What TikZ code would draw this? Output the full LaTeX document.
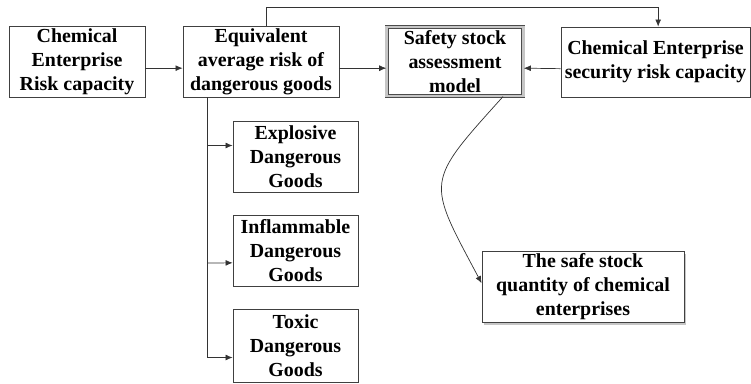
\documentclass[tikz,border=0pt]{standalone}
\usepackage{fontspec}
\setmainfont{Liberation Serif}
\usetikzlibrary{arrows.meta,shadows}

\begin{document}
\begin{tikzpicture}[x=0.03cm,y=-0.03cm,
    >={Latex[length=6pt,width=5pt]},
    line/.style={line width=0.6pt,draw=black!80},
    box/.style={draw=black!75,line width=0.7pt,fill=white,align=center,inner sep=0pt,
      font=\fontsize{17}{20.4}\selectfont\bfseries},
    bevel/.style={box,draw=black!70,double=gray!45,double distance=2.2pt},
    shadowbox/.style={box,drop shadow={shadow xshift=2pt,shadow yshift=-2.5pt,opacity=0.45}}]
  \useasboundingbox (0,0) rectangle (751,383);

  % top row
  \node[box,minimum width=4.08cm,minimum height=2.13cm] (risk) at (77,61.5)
    {Chemical\\Enterprise\\Risk capacity};
  \node[box,minimum width=4.68cm,minimum height=2.13cm] (equiv) at (261,61.5)
    {Equivalent\\average risk of\\dangerous goods};
  \node[bevel,minimum width=4.1cm,minimum height=2.08cm] (model) at (455,61.5)
    {Safety stock\\assessment\\model};
  \node[box,minimum width=5.67cm,minimum height=2.1cm] (cap) at (655.5,62)
    {Chemical Enterprise\\security risk capacity};

  % kinds of dangerous goods
  \node[box,minimum width=3.75cm,minimum height=2.13cm] (explosive) at (295.5,156.5)
    {Explosive\\Dangerous\\Goods};
  \node[box,minimum width=3.75cm,minimum height=2.13cm] (inflam) at (295.5,250.5)
    {Inflammable\\Dangerous\\Goods};
  \node[box,minimum width=3.75cm,minimum height=2.19cm] (toxic) at (295.5,345.5)
    {Toxic\\Dangerous\\Goods};

  \node[shadowbox,minimum width=6.06cm,minimum height=2.13cm] (stock) at (583,286.5)
    {The safe stock\\quantity of chemical\\enterprises};

  % connectors
  \draw[line,->] ([yshift=-0.2cm]risk.east) -- ([yshift=-0.2cm]equiv.west);
  \draw[line,->] ([yshift=-0.2cm]equiv.east) -- ([yshift=-0.2cm]model.west);
  \draw[line,->] ([yshift=-0.2cm]cap.west) -- ([yshift=-0.2cm]model.east);
  \draw[line,->] ([xshift=0.15cm]equiv.north) -- ++(0,-18) -| ([xshift=0.08cm]cap.north);

  \coordinate (trunk) at ([xshift=0.75cm]equiv.south west);
  \draw[line,->] (trunk) |- ([yshift=-0.36cm]toxic.west);
  \draw[line,->] (trunk |- explosive.west) ++(0,-11) -- ([yshift=0.33cm]explosive.west);
  \draw[line,->] (trunk |- inflam.west) ++(0,12.5) -- ([yshift=-0.37cm]inflam.west);

  \draw[line,->] ([xshift=1.44cm]model.south) to[out=228,in=118,looseness=1.6] ([yshift=0.1cm]stock.west);
\end{tikzpicture}
\end{document}
